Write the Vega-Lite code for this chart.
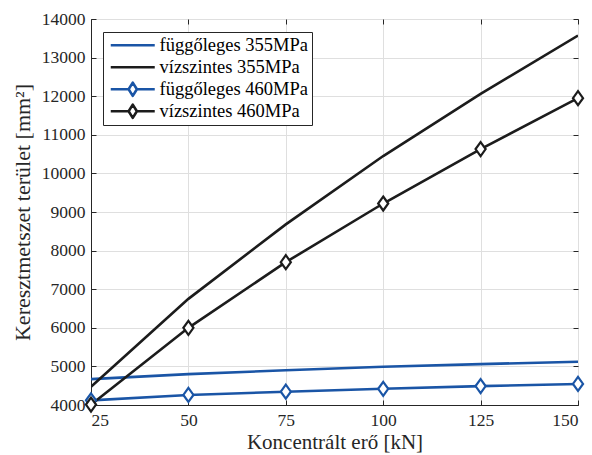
{
  "$schema": "https://vega.github.io/schema/vega-lite/v6.json",
  "autosize": "none",
  "width": 487,
  "height": 386,
  "padding": {"left": 91, "top": 19, "right": 14, "bottom": 50},
  "background": "white",
  "config": {
    "font": "Liberation Serif",
    "view": {"stroke": "#262626", "strokeWidth": 1},
    "axis": {
      "labelFont": "Liberation Serif",
      "labelFontSize": 17.5,
      "labelColor": "#262626",
      "titleFont": "Liberation Serif",
      "titleFontSize": 22,
      "titleFontWeight": "normal",
      "titleColor": "#262626",
      "domainColor": "#262626",
      "tickColor": "#262626",
      "gridColor": "#dfdfdf",
      "gridWidth": 1,
      "format": "d"
    },
    "legend": {
      "orient": "none",
      "legendX": 12,
      "legendY": 13,
      "title": null,
      "labelFont": "Liberation Serif",
      "labelFontSize": 18.5,
      "labelColor": "#000000",
      "strokeColor": "#262626",
      "fillColor": "white",
      "padding": 4,
      "symbolSize": 121,
      "symbolStrokeWidth": 2.6,
      "labelOffset": 34,
      "rowPadding": 3,
      "labelLimit": 300
    }
  },
  "data": {
    "values": [
      {"x": 25, "value": 4670, "series": "függőleges 355MPa"},
      {"x": 50, "value": 4800, "series": "függőleges 355MPa"},
      {"x": 75, "value": 4900, "series": "függőleges 355MPa"},
      {"x": 100, "value": 4990, "series": "függőleges 355MPa"},
      {"x": 125, "value": 5060, "series": "függőleges 355MPa"},
      {"x": 150, "value": 5120, "series": "függőleges 355MPa"},
      {"x": 25, "value": 4475, "series": "vízszintes 355MPa"},
      {"x": 50, "value": 6750, "series": "vízszintes 355MPa"},
      {"x": 75, "value": 8680, "series": "vízszintes 355MPa"},
      {"x": 100, "value": 10450, "series": "vízszintes 355MPa"},
      {"x": 125, "value": 12060, "series": "vízszintes 355MPa"},
      {"x": 150, "value": 13570, "series": "vízszintes 355MPa"},
      {"x": 25, "value": 4120, "series": "függőleges 460MPa"},
      {"x": 50, "value": 4260, "series": "függőleges 460MPa"},
      {"x": 75, "value": 4345, "series": "függőleges 460MPa"},
      {"x": 100, "value": 4420, "series": "függőleges 460MPa"},
      {"x": 125, "value": 4490, "series": "függőleges 460MPa"},
      {"x": 150, "value": 4545, "series": "függőleges 460MPa"},
      {"x": 25, "value": 4010, "series": "vízszintes 460MPa"},
      {"x": 50, "value": 6000, "series": "vízszintes 460MPa"},
      {"x": 75, "value": 7700, "series": "vízszintes 460MPa"},
      {"x": 100, "value": 9220, "series": "vízszintes 460MPa"},
      {"x": 125, "value": 10630, "series": "vízszintes 460MPa"},
      {"x": 150, "value": 11950, "series": "vízszintes 460MPa"}
    ]
  },
  "layer": [
    {
      "mark": {"type": "line", "strokeWidth": 2.6, "clip": true},
      "encoding": {
        "x": {
          "field": "x", "type": "quantitative",
          "scale": {"domain": [25, 150], "nice": false, "zero": false},
          "axis": {"values": [25, 50, 75, 100, 125, 150], "title": "Koncentrált erő [kN]", "titleFontSize": 21, "tickSize": -5, "labelPadding": 11, "titlePadding": 3, "grid": true}
        },
        "y": {
          "field": "value", "type": "quantitative",
          "scale": {"domain": [4000, 14000], "nice": false, "zero": false},
          "axis": {"values": [4000, 5000, 6000, 7000, 8000, 9000, 10000, 11000, 12000, 13000, 14000], "title": "Keresztmetszet terület [mm²]", "tickSize": -5, "labelPadding": 11, "titlePadding": 7, "grid": true}
        },
        "color": {
          "field": "series", "type": "nominal",
          "scale": {
            "domain": ["függőleges 355MPa", "vízszintes 355MPa", "függőleges 460MPa", "vízszintes 460MPa"],
            "range": ["#1a55a6", "#1c1c1c", "#1a55a6", "#1c1c1c"]
          },
          "legend": {
            "encode": {
              "symbols": {
                "update": {
                  "shape": [
                    {"test": "indexof(datum.value, '460') >= 0", "value": "M-1,0H2.2M3.8,0H7M3,-1.2L3.75,0L3,1.2L2.25,0Z"},
                    {"value": "M-1,0H7"}
                  ],
                  "fill": {"value": "white"},
                  "strokeWidth": {"value": 2.6},
                  "strokeJoin": {"value": "round"}
                }
              }
            }
          }
        },
        "detail": {"field": "series"}
      }
    },
    {
      "transform": [{"filter": "indexof(datum.series, '460') >= 0"}],
      "mark": {"type": "point", "filled": false, "fill": "white", "shape": "M0,-1L0.72,0L0,1L-0.72,0Z", "strokeWidth": 2.2, "size": 196, "opacity": 1, "clip": false},
      "encoding": {
        "x": {
          "field": "x", "type": "quantitative",
          "axis": {"orient": "top", "values": [25, 50, 75, 100, 125, 150], "labels": false, "title": null, "tickSize": -5, "grid": false, "domain": false}
        },
        "y": {
          "field": "value", "type": "quantitative",
          "axis": {"orient": "right", "values": [4000, 5000, 6000, 7000, 8000, 9000, 10000, 11000, 12000, 13000, 14000], "labels": false, "title": null, "tickSize": -5, "grid": false, "domain": false}
        },
        "color": {"field": "series", "type": "nominal"}
      }
    }
  ],
  "resolve": {"axis": {"x": "independent", "y": "independent"}}
}
